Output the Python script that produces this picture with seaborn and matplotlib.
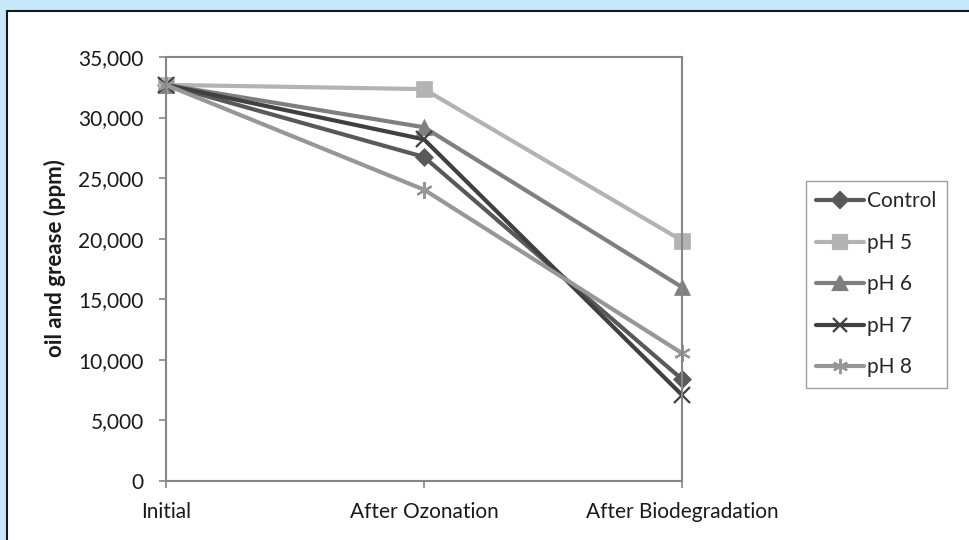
import pandas as pd
import numpy as np

import matplotlib.pyplot as plt
import seaborn as sns
from matplotlib.patches import Rectangle
from matplotlib.ticker import FuncFormatter

stages = ["Initial", "After Ozonation", "After Biodegradation"]
control = [32700, 26750, 8400]
ph5 = [32700, 32350, 19850]
ph6 = [32700, 29200, 16000]
ph7 = [32700, 28200, 7100]
ph8 = [32700, 24050, 10550]

series_names = ["Control", "pH 5", "pH 6", "pH 7", "pH 8"]
colors = {"Control": "#595959", "pH 5": "#b3b3b3", "pH 6": "#7f7f7f",
          "pH 7": "#404040", "pH 8": "#979797"}
markers = {"Control": "D", "pH 5": "s", "pH 6": "^", "pH 7": "x", "pH 8": (6, 2, 0)}
msizes = {"Control": 9, "pH 5": 11, "pH 6": 11, "pH 7": 11, "pH 8": 12}

df = pd.DataFrame({
    "stage": stages * 5,
    "value": control + ph5 + ph6 + ph7 + ph8,
    "series": np.repeat(series_names, 3),
})
df["pos"] = df["stage"].map({s: i for i, s in enumerate(stages)})

sns.set_style("white")
plt.rcParams["font.family"] = ["Lato", "DejaVu Sans"]

fig = plt.figure(figsize=(9.69, 5.4), dpi=100, facecolor="#c6e8f8")
fig.patches.append(Rectangle((7 / 969, -0.1), 1.2, (540 - 11) / 540 + 0.1,
                             transform=fig.transFigure, facecolor="white",
                             edgecolor="#1a1a1a", lw=1.5, zorder=-10))

ax = fig.add_axes([166 / 969, 59 / 540, (682 - 166) / 969, (481 - 57) / 540])
ax.set_facecolor("white")

# seaborn can't mix filled and line markers, so draw with "o" and swap after
sns.lineplot(data=df, x="pos", y="value", hue="series", style="series",
             palette=colors, markers=["o"] * 5, dashes=False, linewidth=3.0,
             ax=ax, legend=False, clip_on=False)

for line, name in zip(ax.lines, series_names):
    line.set_marker(markers[name])
    line.set_markersize(msizes[name])
    line.set_markeredgecolor(colors[name])
    line.set_markerfacecolor(colors[name])
    line.set_markeredgewidth(1.6 if name in ("pH 7", "pH 8") else 0.5)

ax.set_xlim(0, 2)
ax.set_ylim(0, 35000)
ax.set_xticks(range(3))
ax.set_xticklabels(stages)
ax.set_yticks(np.arange(0, 35001, 5000))
ax.yaxis.set_major_formatter(FuncFormatter(lambda v, p: f"{int(v):,}"))
ax.tick_params(axis="both", labelsize=15, colors="#868686", labelcolor="#1a1a1a",
               length=5, width=1.2, direction="out", bottom=True, left=True)
ax.tick_params(axis="y", pad=11)
ax.tick_params(axis="x", pad=10)
for sp in ax.spines.values():
    sp.set_color("#868686")
    sp.set_linewidth(1.5)
ax.set_xlabel("")
ax.set_ylabel("oil and grease (ppm)", fontsize=16, fontweight="bold", color="#1a1a1a")
ax.yaxis.set_label_coords((66 - 166) / (682 - 166), 0.525)

handles = [plt.Line2D([], [], color=colors[n], marker=markers[n], lw=3.0,
                      markersize=msizes[n] - 1, markeredgewidth=1.6) for n in series_names]
fig.legend(handles, series_names, loc="upper left",
           bbox_to_anchor=(806 / 969, 1 - 181 / 540), bbox_transform=fig.transFigure,
           borderaxespad=0, fontsize=15, frameon=True, fancybox=False,
           edgecolor="#868686", handlelength=2.3, handletextpad=0.15,
           labelspacing=1.03, borderpad=0.5)

plt.savefig("out.png", dpi=100, facecolor=fig.get_facecolor())
